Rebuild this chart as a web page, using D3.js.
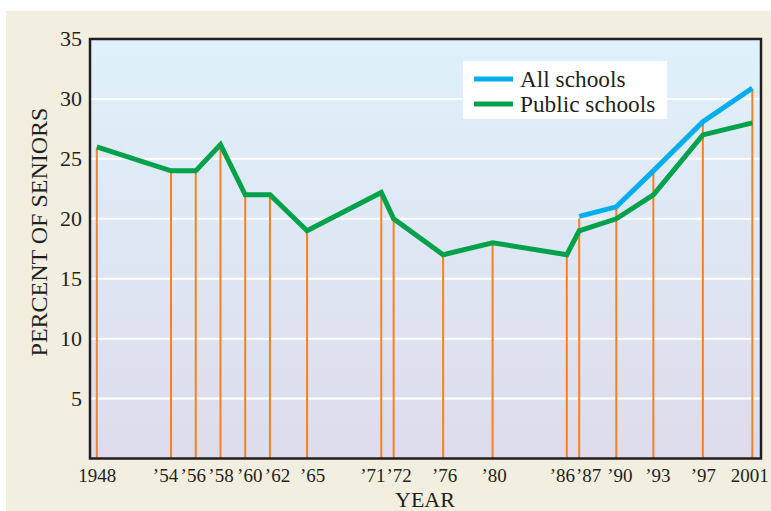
<!DOCTYPE html>
<html><head><meta charset="utf-8">
<script src="https://cdn.jsdelivr.net/npm/d3@7"></script>
<style>body{margin:0;background:#fff}svg{display:block}</style>
</head><body>
<script>
const years = [1948,1954,1956,1958,1960,1962,1965,1971,1972,1976,1980,1986,1987,1990,1993,1997,2001];
const tickLabels = ["1948","’54","’56","’58","’60","’62","’65","’71","’72","’76","’80","’86","’87","’90","’93","’97","2001"];
const publicSchools = [26,24,24,26.2,22,22,19,22.2,20,17,18,17,19,20,22,27,28];
const allYears = [1987,1990,1993,1997,2001];
const allSchools = [20.2,21,24,28.1,30.9];
const yTicks = [5,10,15,20,25,30,35];

// label nudges (layout only), px
const labelShift = [0,-6,-3,0,4,7,5,-9,5,1,1,-5,9,3,4,0,-3];

const W=771,H=511;
const L=90,T=39,R=761,B=458.5;
const font="'Liberation Serif', 'Times New Roman', serif";
const ink="#231f20";
const svg=d3.select("body").append("svg").attr("width",W).attr("height",H);
svg.append("rect").attr("x",6).attr("y",11).attr("width",W-6).attr("height",H-11).attr("fill","#f2efe1");

const defs=svg.append("defs");
const g=defs.append("linearGradient").attr("id","bg").attr("x1",0).attr("y1",0).attr("x2",0).attr("y2",1);
g.append("stop").attr("offset","0%").attr("stop-color","#dff1fb");
g.append("stop").attr("offset","100%").attr("stop-color","#dedcec");

const x=d3.scaleLinear().domain([1947.45,2001.7]).range([L,R]);
const y=d3.scaleLinear().domain([0,35]).range([B,T]);

svg.append("rect").attr("x",L).attr("y",T).attr("width",R-L).attr("height",B-T).attr("fill","url(#bg)");

// gridlines
svg.append("g").selectAll("line").data(yTicks.filter(d=>d<35)).join("line")
  .attr("x1",L).attr("x2",R).attr("y1",d=>y(d)).attr("y2",d=>y(d))
  .attr("stroke","#fff").attr("stroke-width",2);

// drop lines
const topVal = years.map((yr,i)=>{const j=allYears.indexOf(yr);return j>=0?allSchools[j]:publicSchools[i];});
svg.append("g").selectAll("line").data(years).join("line")
  .attr("x1",d=>x(d)).attr("x2",d=>x(d)).attr("y1",B).attr("y2",(d,i)=>y(topVal[i])+2)
  .attr("stroke","#f5821f").attr("stroke-width",2);

const line=d3.line().x(d=>x(d[0])).y(d=>y(d[1]));
svg.append("path").datum(years.map((d,i)=>[d,publicSchools[i]])).attr("d",line)
  .attr("fill","none").attr("stroke","#00a14b").attr("stroke-width",5).attr("stroke-linejoin","miter");
svg.append("path").datum(allYears.map((d,i)=>[d,allSchools[i]])).attr("d",line)
  .attr("fill","none").attr("stroke","#00aeef").attr("stroke-width",5).attr("stroke-linejoin","miter");

// frame
svg.append("rect").attr("x",L).attr("y",T).attr("width",R-L).attr("height",B-T)
  .attr("fill","none").attr("stroke",ink).attr("stroke-width",2.5);

// y axis labels
const yAxis=d3.axisLeft(y).tickValues(yTicks).tickSize(0).tickPadding(8);
const ya=svg.append("g").attr("transform",`translate(${L},0)`).call(yAxis);
ya.select(".domain").remove();
ya.selectAll("text").attr("font-family",font).attr("font-size",22).attr("fill",ink).attr("dy","0.3em");

// x axis labels
const xAxis=d3.axisBottom(x).tickValues(years).tickFormat((d,i)=>tickLabels[i]).tickSize(0).tickPadding(0);
const xa=svg.append("g").attr("transform",`translate(0,${B})`).call(xAxis);
xa.select(".domain").remove();
xa.selectAll("text").attr("font-family",font).attr("font-size",19).attr("fill",ink)
  .attr("y",23.5).attr("dy",0).attr("dx",(d,i)=>labelShift[i]);

// titles
svg.append("text").attr("x",425).attr("y",507).attr("text-anchor","middle")
  .attr("font-family",font).attr("font-size",22).attr("fill",ink).text("YEAR");
svg.append("text").attr("transform","translate(47,232) rotate(-90)").attr("text-anchor","middle")
  .attr("font-family",font).attr("font-size",24).attr("fill",ink).text("PERCENT OF SENIORS");

// legend
const lg=svg.append("g");
lg.append("rect").attr("x",463).attr("y",61).attr("width",204).attr("height",58).attr("fill","#fff");
const items=[["All schools","#00aeef"],["Public schools","#00a14b"]];
items.forEach((it,i)=>{
  const cy=79+i*25;
  lg.append("line").attr("x1",474).attr("x2",513).attr("y1",cy).attr("y2",cy).attr("stroke",it[1]).attr("stroke-width",5);
  lg.append("text").attr("x",520).attr("y",cy+8).attr("font-family",font).attr("font-size",23.3).attr("fill",ink).text(it[0]);
});
</script>
</body></html>
